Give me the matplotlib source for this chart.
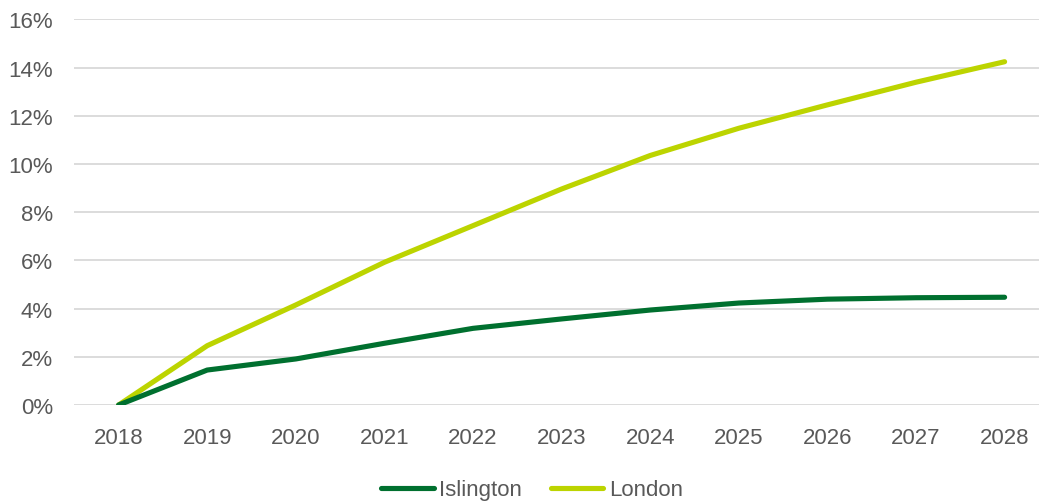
import matplotlib
matplotlib.use("Agg")
import matplotlib.pyplot as plt
from matplotlib.ticker import FuncFormatter
from matplotlib.lines import Line2D

years = ["2018", "2019", "2020", "2021", "2022", "2023", "2024", "2025", "2026", "2027", "2028"]
islington = [0.0, 1.45, 1.91, 2.56, 3.18, 3.57, 3.94, 4.23, 4.39, 4.45, 4.47]
london = [0.0, 2.46, 4.15, 5.92, 7.44, 8.96, 10.35, 11.48, 12.45, 13.39, 14.24]
yticks = [0, 2, 4, 6, 8, 10, 12, 14, 16]

plt.rcParams['font.family'] = ['Liberation Sans', 'DejaVu Sans']
W, H = 1039, 502
fig = plt.figure(figsize=(W / 100, H / 100), dpi=100)
left = 74.3 / W
bottom = 1 - 406 / H
top = 1 - 20.3 / H
width = 11 * 88.6 / W
ax = fig.add_axes([left, bottom, width, top - bottom])

gray = "#595959"
c_isl = "#00702f"
c_lon = "#bcd400"
x = list(range(len(years)))
ax.plot(x, london, color=c_lon, lw=3.7, solid_capstyle="round", solid_joinstyle="round", zorder=3)
ax.plot(x, islington, color=c_isl, lw=3.7, solid_capstyle="round", solid_joinstyle="round", zorder=4)

ax.set_xlim(-0.5, 10.5)
ax.set_ylim(0, 16)
ax.set_yticks(yticks)
ax.yaxis.set_major_formatter(FuncFormatter(lambda v, p: f"{v:.0f}%"))
ax.set_xticks(x)
ax.set_xticklabels(years)
ax.grid(axis="y", color="#d9d9d9", lw=1.3)
ax.set_axisbelow(True)
for s in ax.spines.values():
    s.set_visible(False)
ax.tick_params(axis="both", length=0, labelsize=16, labelcolor=gray)
ax.tick_params(axis="y", pad=15.5)
ax.tick_params(axis="x", pad=16)

handles = [Line2D([], [], color=c_isl, lw=3.7, solid_capstyle="round"),
           Line2D([], [], color=c_lon, lw=3.7, solid_capstyle="round")]
fig.legend(handles, ["Islington", "London"], loc="center", bbox_to_anchor=(532 / W, 1 - 491 / H),
           ncol=2, frameon=False, fontsize=16, labelcolor=gray, handlelength=2.35,
           handletextpad=0.25, columnspacing=1.3)

fig.savefig("out.png", dpi=100)
